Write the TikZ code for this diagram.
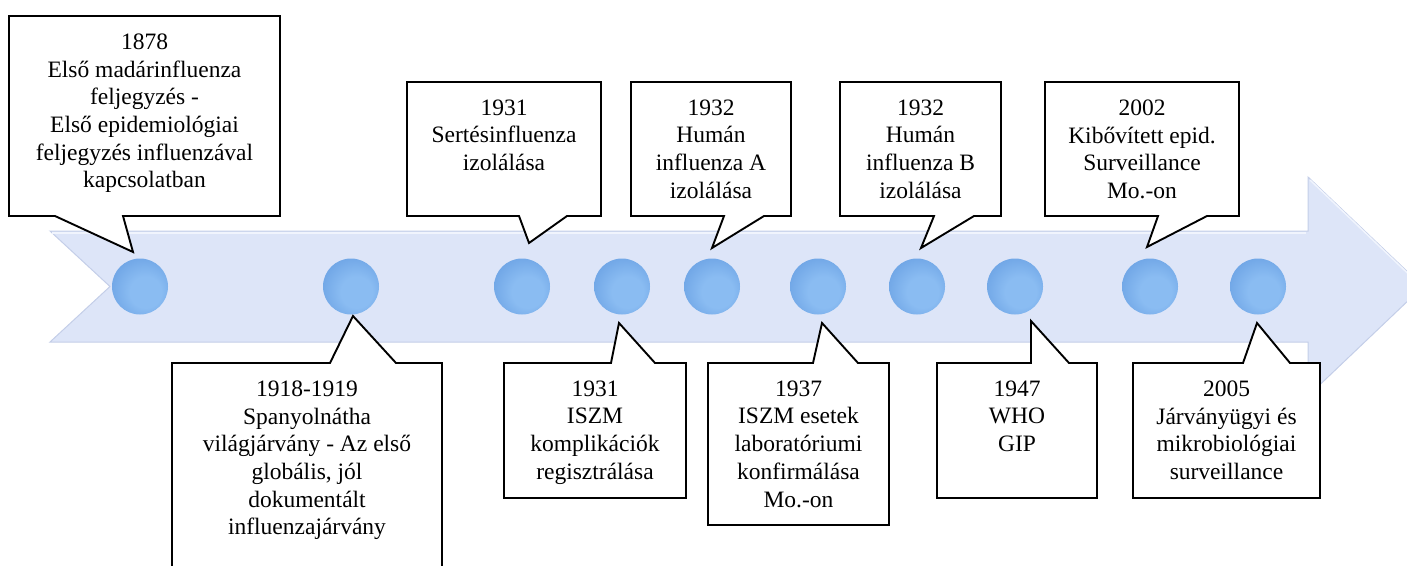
\documentclass[tikz,border=0pt]{standalone}
\usepackage{fontspec}
\setmainfont{Liberation Serif}
\definecolor{bandfill}{RGB}{221,229,248}
\definecolor{bandedge}{RGB}{196,206,232}
\definecolor{bandhi}{RGB}{240,244,253}
\definecolor{sphL}{RGB}{138,188,242}
\definecolor{sphM}{RGB}{112,166,230}
\definecolor{sphD}{RGB}{98,150,216}
\definecolor{sphR}{RGB}{150,185,225}
\pgfdeclareradialshading{sphere}{\pgfpoint{7bp}{-7bp}}{color(0bp)=(sphL); color(14bp)=(sphL); color(30bp)=(sphM); color(42bp)=(sphD); color(47bp)=(sphD); color(50bp)=(sphR)}
\tikzset{
  ball/.style={circle, minimum size=56pt, inner sep=0pt, shading=sphere},
  callout/.style={draw=black, fill=white, line width=1.9pt, line join=miter},
  txt/.style={align=center, inner sep=0pt, anchor=north, font=\fontsize{23.5}{27.7}\selectfont}
}
\begin{document}
\begin{tikzpicture}[x=1pt, y=-1pt]
\useasboundingbox (0,0) rectangle (1407,565);
% arrow band
\fill[bandfill, draw=bandedge, line width=1pt] (50,231) -- (1308,231) -- (1308,177) -- (1423,286.5) -- (1308,396) -- (1308,342) -- (50,342) -- (110,286.5) -- cycle;
\draw[bandhi, line width=1.5pt] (52,233) -- (1306,233);
\draw[bandhi, line width=1.5pt] (1310,180) -- (1420,285);
% circles
\foreach \n/\x in {c1/140, c2/351, c3/522, c4/622, c5/712, c6/818, c7/917, c8/1015, c9/1150, c10/1258}
  \node[ball] (\n) at (\x,286.5) {};
% top callouts
\draw[callout] (9,16) -- (280,16) -- (280,216) -- (123,216) -- (133,252) -- (55,216) -- (9,216) -- cycle;
\node[txt] (t1) at (144.5,33.5) {1878\\Első madárinfluenza\\feljegyzés -\\Első epidemiológiai\\feljegyzés influenzával\\kapcsolatban};
\draw[callout] (407,82) -- (601,82) -- (601,216) -- (567,216) -- (529,243) -- (519,216) -- (407,216) -- cycle;
\node[txt] (t3) at (504,99.5) {1931\\Sertésinfluenza\\izolálása};
\draw[callout] (631,82) -- (791,82) -- (791,216) -- (764,216) -- (712,248) -- (724,216) -- (631,216) -- cycle;
\node[txt] (t5) at (711,99.5) {1932\\Humán\\influenza A\\izolálása};
\draw[callout] (840,82) -- (1001,82) -- (1001,216) -- (974,216) -- (921,248) -- (934,216) -- (840,216) -- cycle;
\node[txt] (t7) at (920.5,99.5) {1932\\Humán\\influenza B\\izolálása};
\draw[callout] (1045,82) -- (1239,82) -- (1239,216) -- (1207,216) -- (1147,247) -- (1158,216) -- (1045,216) -- cycle;
\node[txt] (t9) at (1142,99.5) {2002\\Kibővített epid.\\Surveillance\\Mo.-on};
% bottom callouts
\draw[callout] (172,363) -- (330,363) -- (353,316) -- (396,363) -- (442,363) -- (442,580) -- (172,580) -- cycle;
\node[txt] (t2) at (307,380.5) {1918-1919\\Spanyolnátha\\világjárvány - Az első\\globális, jól\\dokumentált\\influenzajárvány};
\draw[callout] (504,363) -- (611,363) -- (619,323) -- (655,363) -- (686,363) -- (686,498) -- (504,498) -- cycle;
\node[txt] (t4) at (595,380.5) {1931\\ISZM\\komplikációk\\regisztrálása};
\draw[callout] (708,363) -- (813,363) -- (822,323) -- (858,363) -- (889,363) -- (889,525) -- (708,525) -- cycle;
\node[txt] (t6) at (798.5,380.5) {1937\\ISZM esetek\\laboratóriumi\\konfirmálása\\Mo.-on};
\draw[callout] (937,363) -- (1031,363) -- (1031,321) -- (1069,363) -- (1097,363) -- (1097,498) -- (937,498) -- cycle;
\node[txt] (t8) at (1017,380.5) {1947\\WHO\\GIP};
\draw[callout] (1133,363) -- (1243,363) -- (1257,323) -- (1290,363) -- (1320,363) -- (1320,498) -- (1133,498) -- cycle;
\node[txt] (t10) at (1226.5,380.5) {2005\\Járványügyi és\\mikrobiológiai\\surveillance};
\end{tikzpicture}
\end{document}
